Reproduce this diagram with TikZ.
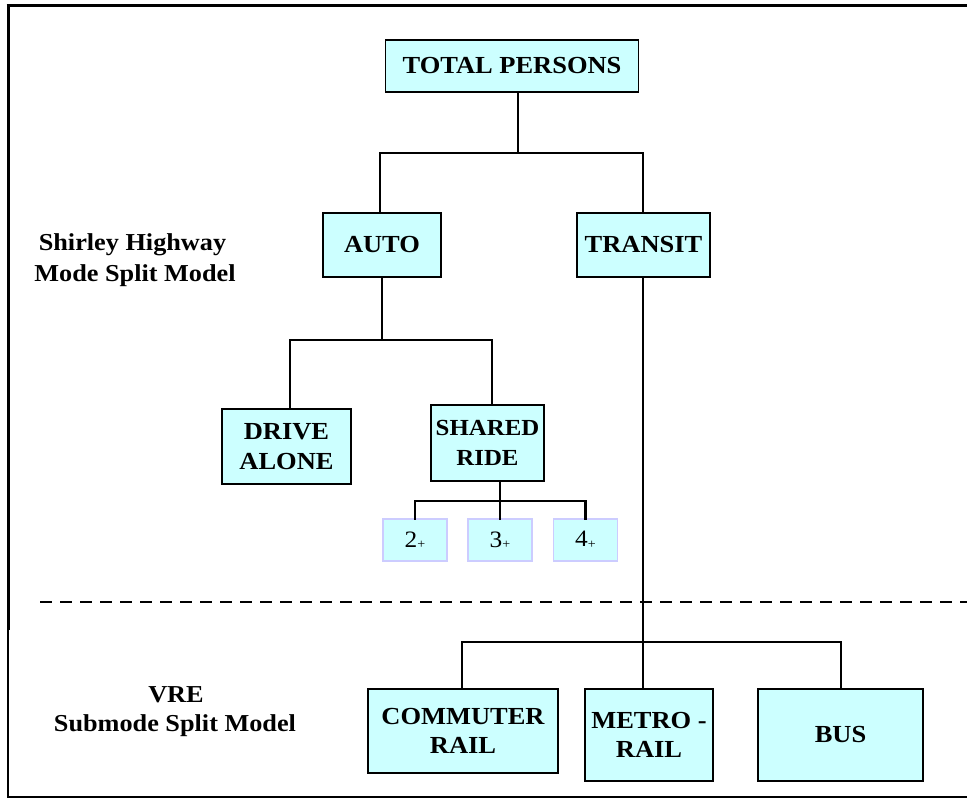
\documentclass[tikz,border=0pt]{standalone}
\usepackage{fontspec}
\setmainfont{Liberation Serif}[FakeStretch=1.08]
\definecolor{boxfill}{RGB}{204,255,255}
\definecolor{smallborder}{RGB}{204,204,255}
\tikzset{
  bigbox/.style={draw=black, line width=1.3pt, fill=boxfill, inner sep=0pt, align=center,
    font=\bfseries\fontsize{24.5}{29.5}\selectfont},
  smallbox/.style={draw=smallborder, line width=1.2pt, fill=boxfill, inner sep=0pt,
    minimum width=64pt, minimum height=42pt, font=\fontsize{23.5}{24}\selectfont},
  conn/.style={line width=2.2pt, line cap=rect},
  sidelabel/.style={font=\bfseries\fontsize{24.3}{26}\selectfont, inner sep=0pt, anchor=base}
}
\newcommand{\plusmark}{\raisebox{-1.5pt}{\fontsize{13}{13}\selectfont +}}
\begin{document}
\begin{tikzpicture}[x=1pt,y=-1pt]
\useasboundingbox (0,0) rectangle (967,799);
% frame
\draw[line width=3pt] (6.5,6) -- (967,6);
\draw[line width=3pt] (8,6) -- (8,630);
\draw[line width=2pt] (8,629) -- (8,797);
\draw[line width=2pt] (7,797) -- (967,797);
% dashed separator
\draw[line width=2.2pt, dash pattern=on 12pt off 8pt] (40,602) -- (967,602);

% nodes
\node[bigbox, minimum width=253pt, minimum height=52pt] (tp) at (512,66) {TOTAL PERSONS};
\node[bigbox, minimum width=118pt, minimum height=64pt] (auto) at (382,245) {AUTO};
\node[bigbox, minimum width=133pt, minimum height=64pt] (transit) at (643.5,245) {TRANSIT};
\node[bigbox, minimum width=129pt, minimum height=75pt] (drive) at (286.5,446.5) {DRIVE\\ALONE};
\node[bigbox, minimum width=113pt, minimum height=76pt, font=\bfseries\fontsize{23}{29.5}\selectfont] (shared) at (487.5,443) {SHARED\\RIDE};
\node[smallbox] (p2) at (415,540) {2\plusmark};
\node[smallbox] (p3) at (500,540) {3\plusmark};
\node[smallbox] (p4) at (585.5,540) {4\plusmark};
\node[bigbox, minimum width=190pt, minimum height=84pt] (cr) at (463,731) {COMMUTER\\RAIL};
\node[bigbox, minimum width=128pt, minimum height=92pt] (mr) at (649,735) {METRO -\\RAIL};
\node[bigbox, minimum width=165pt, minimum height=92pt] (bus) at (840.5,735) {BUS};

% side labels
\node[sidelabel] (sh1) at (132.5,251) {Shirley Highway};
\node[sidelabel] (sh2) at (135,282) {Mode Split Model};
\node[sidelabel] (vre1) at (176,702) {VRE};
\node[sidelabel] (vre2) at (175,731) {Submode Split Model};

% connectors
\coordinate (j1) at (518,153);
\draw[conn] ([xshift=6pt]tp.south) -- (j1);
\draw[conn] ([xshift=-2pt]auto.north) |- (j1) -| ([xshift=-0.5pt]transit.north);
\coordinate (j2) at (382,340);
\draw[conn] (auto.south) -- (j2);
\draw[conn] ([xshift=3.5pt]drive.north) |- (j2) -| ([xshift=4.5pt]shared.north);
\coordinate (j3) at (500,501);
\draw[conn] ([xshift=12.5pt]shared.south) -- (j3);
\draw[conn] (p2.north) |- (j3) -| (p4.north);
\draw[conn] (j3) -- (p3.north);
\coordinate (j4) at (643,642);
\draw[conn] ([xshift=-0.5pt]transit.south) -- (j4);
\draw[conn] ([xshift=-1pt]cr.north) |- (j4) -| ([xshift=0.5pt]bus.north);
\draw[conn] (j4) -- ([xshift=-6pt]mr.north);
\end{tikzpicture}
\end{document}
